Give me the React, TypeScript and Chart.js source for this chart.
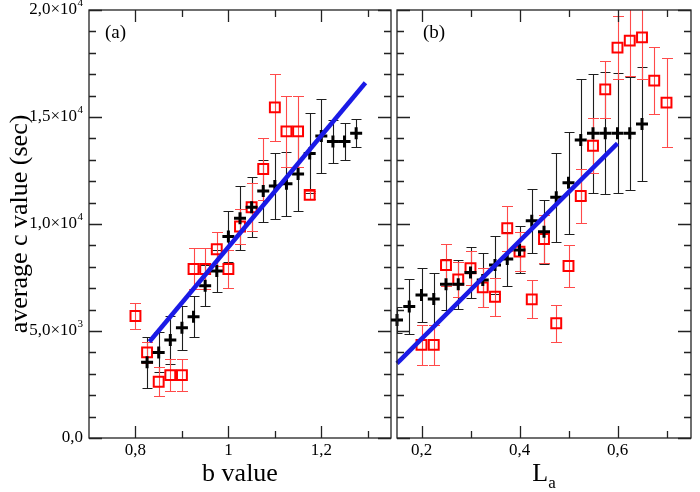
import React, { useEffect, useRef } from 'react';
import { Chart, registerables } from 'chart.js';

Chart.register(...registerables);

const FONT = "'Liberation Serif', 'Times New Roman', serif";

// ---------- Panel (a): average c value vs b value ----------
const bBlack = [0.825, 0.85, 0.875, 0.9, 0.925, 0.95, 0.975, 1.0, 1.025, 1.05, 1.075, 1.1, 1.125, 1.15, 1.175, 1.2, 1.225, 1.25, 1.275];
const cBlackA = [3540, 4000, 4580, 5150, 5670, 7120, 7800, 9420, 10270, 10780, 11540, 11780, 11880, 12340, 13300, 14110, 13860, 13860, 14240];
const errBlackA = [1200, 930, 1100, 1030, 950, 950, 1000, 1200, 1500, 1400, 1450, 1550, 1500, 1750, 1870, 1720, 1000, 850, 650];

const bRed = [0.8, 0.825, 0.85, 0.875, 0.9, 0.925, 0.95, 0.975, 1.0, 1.025, 1.05, 1.075, 1.1, 1.125, 1.15, 1.175];
const cRedA = [5700, 4000, 2630, 2940, 2940, 7900, 7900, 8820, 7900, 9880, 10780, 12570, 15450, 14330, 14330, 11360];
const errRedA = [600, 500, 680, 760, 760, 960, 960, 800, 900, 800, 1130, 1430, 1560, 1670, 1670, 200];

const fitAx = [0.83, 1.295];
const fitAy = [4500, 16600];

// ---------- Panel (b): average c value vs L_a ----------
const laBlack = [0.15, 0.175, 0.2, 0.225, 0.25, 0.275, 0.3, 0.325, 0.35, 0.375, 0.4, 0.425, 0.45, 0.475, 0.5, 0.525, 0.55, 0.575, 0.6, 0.625, 0.65];
const cBlackB = [5510, 6140, 6680, 6500, 7180, 7180, 7730, 7380, 8080, 8360, 8790, 10150, 9640, 11250, 11930, 13930, 14240, 14240, 14240, 14240, 14670];
const errBlackB = [600, 1280, 1250, 1200, 1200, 1150, 1200, 1260, 1350, 1250, 1100, 1500, 1500, 2080, 2380, 2830, 2770, 2840, 2800, 2650, 2650];

const laRed = [0.2, 0.225, 0.25, 0.275, 0.3, 0.325, 0.35, 0.375, 0.4, 0.425, 0.45, 0.475, 0.5, 0.525, 0.55, 0.575, 0.6, 0.625, 0.65, 0.675, 0.7];
const cRedB = [4350, 4350, 8080, 7410, 7930, 7040, 6600, 9800, 8710, 6480, 9300, 5360, 8040, 11310, 13660, 16290, 18240, 18570, 18720, 16700, 15670];
const errRedB = [930, 930, 970, 800, 800, 900, 900, 1040, 900, 880, 1100, 860, 1000, 1280, 1300, 1330, 1470, 1650, 1960, 1560, 2090];

const fitBx = [0.15, 0.6];
const fitBy = [3490, 13770];

// ---------- Axes ----------
const xTicksA = [0.8, 0.9, 1.0, 1.1, 1.2, 1.3];
const xLabelsA = ['0,8', '', '1', '', '1,2', ''];
const xTicksB = [0.2, 0.3, 0.4, 0.5, 0.6, 0.7];
const xLabelsB = ['0,2', '', '0,4', '', '0,6', ''];

const yMajorTicks = [0, 5000, 10000, 15000, 20000];
const yMantissa = ['0,0', '5,0×10', '1,0×10', '1,5×10', '2,0×10'];
const yExponent = ['', '3', '4', '4', '4'];
const yMinorStep = 1000;

const BLUE = '#1a1ae6';
const RED = '#ff0000';
const RED_ERR = '#ff4a4a';
const BLACK_ERR = '#1e1e1e';

type PanelCfg = {
  xTicks: number[];
  xLabels: string[];
  leftLabels: boolean;
  panelLabel: string;
  panelLabelDx: number;
  title: 'b' | 'L';
};

function makePlugin(cfg: PanelCfg) {
  return {
    id: 'panelDecor',
    beforeDatasetsDraw(chart: any) {
      const { ctx, chartArea: a, scales } = chart;
      const x = scales.x;
      const y = scales.y;
      ctx.save();
      ctx.beginPath();
      ctx.rect(a.left, a.top, a.right - a.left, a.bottom - a.top);
      ctx.clip();
      chart.data.datasets.forEach((ds: any) => {
        if (!ds.errors) return;
        ctx.strokeStyle = ds.errorColor;
        ctx.lineWidth = 1.1;
        const cap = ds.cap;
        ds.data.forEach((p: any, i: number) => {
          const px = Math.round(x.getPixelForValue(p.x)) + 0.5;
          const yt = Math.round(y.getPixelForValue(p.y + ds.errors[i])) + 0.5;
          const yb = Math.round(y.getPixelForValue(p.y - ds.errors[i])) + 0.5;
          ctx.beginPath();
          ctx.moveTo(px, yt);
          ctx.lineTo(px, yb);
          ctx.moveTo(px - cap, yt);
          ctx.lineTo(px + cap, yt);
          ctx.moveTo(px - cap, yb);
          ctx.lineTo(px + cap, yb);
          ctx.stroke();
        });
      });
      ctx.restore();
    },
    afterDraw(chart: any) {
      const { ctx, chartArea: a, scales } = chart;
      const x = scales.x;
      const y = scales.y;
      ctx.save();
      ctx.strokeStyle = '#222';
      ctx.lineWidth = 1.3;
      ctx.strokeRect(a.left, a.top, a.right - a.left, a.bottom - a.top);

      ctx.beginPath();
      // x ticks (bottom & top, inward)
      cfg.xTicks.forEach((v, i) => {
        const px = Math.round(x.getPixelForValue(v)) + 0.5;
        const len = cfg.xLabels[i] ? 12 : 7;
        ctx.moveTo(px, a.bottom);
        ctx.lineTo(px, a.bottom - len);
        ctx.moveTo(px, a.top);
        ctx.lineTo(px, a.top + len);
      });
      // y ticks (left & right, inward)
      for (let v = 0; v <= 20000; v += yMinorStep) {
        const py = Math.round(y.getPixelForValue(v)) + 0.5;
        const len = yMajorTicks.includes(v) ? 13 : 7;
        ctx.moveTo(a.left, py);
        ctx.lineTo(a.left + len, py);
        ctx.moveTo(a.right, py);
        ctx.lineTo(a.right - len, py);
      }
      ctx.stroke();

      ctx.fillStyle = '#000';
      // y tick labels
      if (cfg.leftLabels) {
        const right = a.left - 6;
        yMajorTicks.forEach((v, i) => {
          const py = y.getPixelForValue(v);
          ctx.textBaseline = 'middle';
          ctx.textAlign = 'right';
          let expW = 0;
          if (yExponent[i]) {
            ctx.font = `11px ${FONT}`;
            expW = ctx.measureText(yExponent[i]).width;
            ctx.fillText(yExponent[i], right, py - 7);
          }
          ctx.font = `17px ${FONT}`;
          ctx.fillText(yMantissa[i], right - expW - (expW ? 0.5 : 0), py);
        });
        // y title
        ctx.save();
        ctx.translate(27, (a.top + a.bottom) / 2);
        ctx.rotate(-Math.PI / 2);
        ctx.font = `26px ${FONT}`;
        ctx.textAlign = 'center';
        ctx.textBaseline = 'alphabetic';
        ctx.fillText('average c value (sec)', 0, 0);
        ctx.restore();
      }

      // x title
      const cx = (a.left + a.right) / 2;
      ctx.textBaseline = 'alphabetic';
      if (cfg.title === 'b') {
        ctx.font = `26px ${FONT}`;
        ctx.textAlign = 'center';
        ctx.fillText('b value', cx, 481);
      } else {
        ctx.font = `26px ${FONT}`;
        const wL = ctx.measureText('L').width;
        ctx.font = `17px ${FONT}`;
        const wa = ctx.measureText('a').width;
        const start = cx - (wL + wa) / 2;
        ctx.textAlign = 'left';
        ctx.font = `26px ${FONT}`;
        ctx.fillText('L', start, 481);
        ctx.font = `17px ${FONT}`;
        ctx.fillText('a', start + wL, 488);
      }

      // panel label
      ctx.font = `19px ${FONT}`;
      ctx.textAlign = 'left';
      ctx.fillText(cfg.panelLabel, a.left + cfg.panelLabelDx, 38);
      ctx.restore();
    },
  };
}

function pts(xs: number[], ys: number[]) {
  return xs.map((x, i) => ({ x, y: ys[i] }));
}

function buildChart(
  canvas: HTMLCanvasElement,
  opts: {
    xMin: number;
    xMax: number;
    blackX: number[];
    blackY: number[];
    blackErr: number[];
    redX: number[];
    redY: number[];
    redErr: number[];
    fitX: number[];
    fitY: number[];
    padding: { top: number; right: number; left: number; bottom: number };
    yWidth: number;
    cfg: PanelCfg;
  }
) {
  const { cfg } = opts;
  return new Chart(canvas, {
    type: 'scatter',
    data: {
      datasets: [
        {
          label: 'fit',
          type: 'line',
          data: pts(opts.fitX, opts.fitY),
          borderColor: BLUE,
          backgroundColor: BLUE,
          borderWidth: 4.5,
          pointRadius: 0,
          showLine: true,
          fill: false,
          clip: false,
          order: 0,
        } as any,
        {
          label: 'black',
          data: pts(opts.blackX, opts.blackY),
          pointStyle: 'cross',
          pointRadius: 6,
          borderWidth: 3,
          borderColor: '#000',
          backgroundColor: '#000',
          errors: opts.blackErr,
          errorColor: BLACK_ERR,
          cap: 5,
          clip: false,
          order: 1,
        } as any,
        {
          label: 'red',
          data: pts(opts.redX, opts.redY),
          pointStyle: 'rect',
          pointRadius: 7,
          borderWidth: 2,
          borderColor: RED,
          backgroundColor: 'rgba(0,0,0,0)',
          errors: opts.redErr,
          errorColor: RED_ERR,
          cap: 5.5,
          clip: false,
          order: 2,
        } as any,
      ],
    },
    options: {
      responsive: false,
      animation: false,
      layout: { padding: opts.padding },
      plugins: { legend: { display: false }, tooltip: { enabled: false } },
      scales: {
        x: {
          type: 'linear',
          min: opts.xMin,
          max: opts.xMax,
          afterBuildTicks: (s: any) => {
            s.ticks = cfg.xTicks.map((v) => ({ value: v }));
          },
          afterFit: (s: any) => {
            s.height = 54;
          },
          grid: { display: false, drawTicks: false },
          border: { display: false },
          ticks: {
            autoSkip: false,
            maxRotation: 0,
            padding: 2,
            color: '#000',
            font: { family: FONT, size: 17 },
            callback: (v: any) => {
              const idx = cfg.xTicks.findIndex((t) => Math.abs(t - Number(v)) < 1e-6);
              return idx >= 0 ? cfg.xLabels[idx] : '';
            },
          },
        },
        y: {
          type: 'linear',
          min: 0,
          max: 20000,
          afterFit: (s: any) => {
            s.width = opts.yWidth;
          },
          grid: { display: false, drawTicks: false },
          border: { display: false },
          ticks: { display: false },
        },
      },
    } as any,
    plugins: [makePlugin(cfg)],
  });
}

export default function App() {
  const refA = useRef<HTMLCanvasElement>(null);
  const refB = useRef<HTMLCanvasElement>(null);

  useEffect(() => {
    if (!refA.current || !refB.current) return;
    const chartA = buildChart(refA.current, {
      xMin: 0.7,
      xMax: 1.35,
      blackX: bBlack,
      blackY: cBlackA,
      blackErr: errBlackA,
      redX: bRed,
      redY: cRedA,
      redErr: errRedA,
      fitX: fitAx,
      fitY: fitAy,
      padding: { top: 10, right: 6, left: 0, bottom: 0 },
      yWidth: 89,
      cfg: { xTicks: xTicksA, xLabels: xLabelsA, leftLabels: true, panelLabel: '(a)', panelLabelDx: 16, title: 'b' },
    });
    const chartB = buildChart(refB.current, {
      xMin: 0.15,
      xMax: 0.75,
      blackX: laBlack,
      blackY: cBlackB,
      blackErr: errBlackB,
      redX: laRed,
      redY: cRedB,
      redErr: errRedB,
      fitX: fitBx,
      fitY: fitBy,
      padding: { top: 10, right: 2, left: 6, bottom: 0 },
      yWidth: 0,
      cfg: { xTicks: xTicksB, xLabels: xLabelsB, leftLabels: false, panelLabel: '(b)', panelLabelDx: 26, title: 'L' },
    });
    return () => {
      chartA.destroy();
      chartB.destroy();
    };
  }, []);

  return (
    <div style={{ position: 'fixed', left: 0, top: 0, width: 700, height: 492, background: '#fff' }}>
      <canvas
        ref={refA}
        width={400}
        height={492}
        style={{ position: 'absolute', left: 0, top: 0, width: 400, height: 492 }}
      />
      <canvas
        ref={refB}
        width={312}
        height={492}
        style={{ position: 'absolute', left: 388, top: 0, width: 312, height: 492 }}
      />
    </div>
  );
}
